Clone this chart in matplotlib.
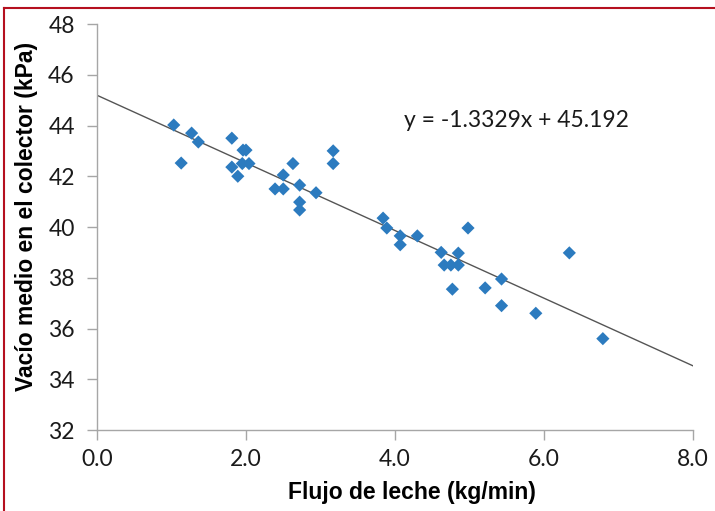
import matplotlib
matplotlib.use("Agg")
import matplotlib.pyplot as plt
from matplotlib.lines import Line2D
import numpy as np

flujo = [1.03, 1.13, 1.27, 1.36, 1.81, 1.96, 2.00, 1.81, 1.89, 1.95, 2.04,
         2.39, 2.50, 2.50, 2.63, 2.72, 2.72, 2.72, 2.94, 3.17, 3.17,
         3.84, 3.89, 4.07, 4.07, 4.30, 4.98, 4.62, 4.85, 4.66, 4.75, 4.85,
         4.77, 5.21, 5.43, 5.43, 5.89, 6.34, 6.79]
vacio = [44.02, 42.52, 43.70, 43.35, 43.50, 43.03, 43.03, 42.36, 42.00, 42.50, 42.50,
         41.50, 41.50, 42.05, 42.50, 41.65, 40.98, 40.67, 41.35, 43.00, 42.50,
         40.35, 39.96, 39.65, 39.30, 39.65, 39.96, 39.00, 38.97, 38.50, 38.50, 38.50,
         37.55, 37.60, 37.95, 36.90, 36.60, 38.98, 35.60]
slope = -1.3329
intercept = 45.192
trend_x = [0.0, 8.0]
x_ticks = [0, 2, 4, 6, 8]
x_ticklabels = ["0.0", "2.0", "4.0", "6.0", "8.0"]
y_ticks = [32, 34, 36, 38, 40, 42, 44, 46, 48]

fig = plt.figure(figsize=(7.15, 5.11), dpi=100)
ax = fig.add_axes([97/715, 1-430/511, (693-97)/715, (430-24)/511])

tx = np.array(trend_x)
ax.plot(tx, slope*tx + intercept, color="#555555", lw=1.0, zorder=2)
ax.scatter(flujo, vacio, marker="D", s=45, color="#2C7BBF", edgecolors="none", zorder=3)

ax.set_xlim(0, 8)
ax.set_ylim(32, 48)
ax.set_xticks(x_ticks)
ax.set_xticklabels(x_ticklabels)
ax.set_yticks(y_ticks)
for s in ["top", "right"]:
    ax.spines[s].set_visible(False)
for s in ["left", "bottom"]:
    ax.spines[s].set_color("#A6A6A6")
    ax.spines[s].set_linewidth(1.0)
ax.tick_params(axis="both", direction="out", length=7, width=1.0, color="#A6A6A6",
               labelsize=16.5, labelcolor="#1a1a1a")
ax.tick_params(axis="y", pad=9)
ax.tick_params(axis="x", pad=7)
for lab in ax.get_xticklabels() + ax.get_yticklabels():
    lab.set_family("Lato")

ax.set_xlabel("Flujo de leche (kg/min)", fontsize=16.5, fontweight="bold",
              family="Liberation Sans")
ax.xaxis.set_label_coords(0.528, -0.155)
ax.xaxis.label.set_va("center")
ax.set_ylabel("Vacío medio en el colector (kPa)", fontsize=16.5, fontweight="bold",
              family="Liberation Sans")
ax.yaxis.set_label_coords(-0.118, 0.525)
ax.yaxis.label.set_va("center")

ax.text(4.12, 44.18, "y = -1.3329x + 45.192", fontsize=16.5, family="Lato",
        color="#1a1a1a", ha="left", va="center")

# red frame lines (top and left)
fig.add_artist(Line2D([4/715, 4/715], [0, 1-8/511], transform=fig.transFigure,
                      color="#B5101F", lw=1.5))
fig.add_artist(Line2D([4/715, 1], [1-8/511, 1-8/511], transform=fig.transFigure,
                      color="#B5101F", lw=1.5))

fig.savefig("out.png", dpi=100)
